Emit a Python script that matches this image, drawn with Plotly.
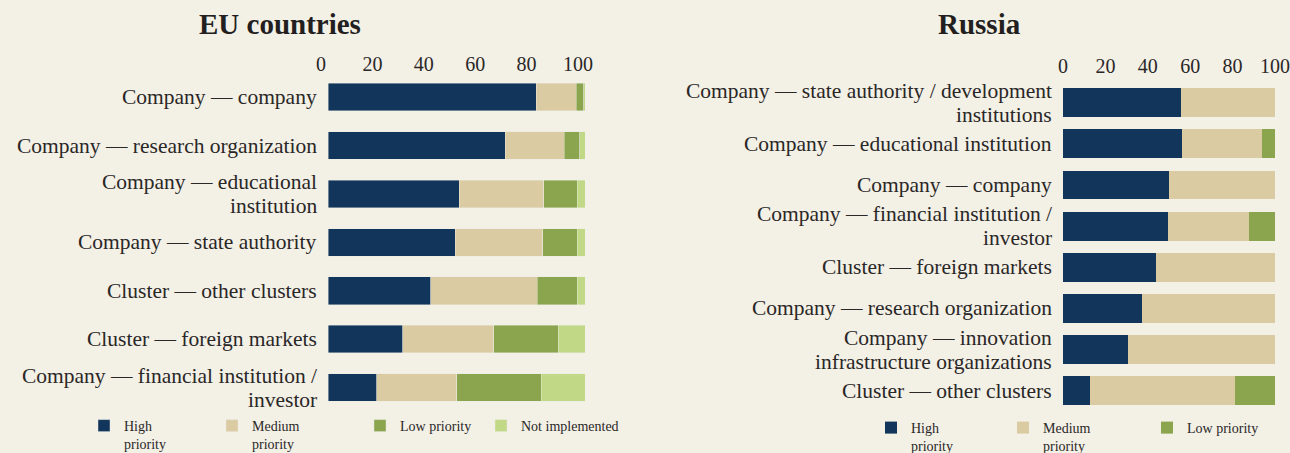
import plotly.graph_objects as go

# ---------------- data ----------------
eu_categories = [
    "Company — company",
    "Company — research organization",
    "Company — educational<br>institution",
    "Company — state authority",
    "Cluster — other clusters",
    "Cluster — foreign markets",
    "Company — financial institution /<br>investor",
]
eu_high = [81, 69, 51, 49.5, 40, 29, 19]
eu_medium = [15.5, 23, 33, 34, 41.5, 35.5, 31]
eu_low = [3, 6, 13, 13.5, 15.5, 25, 33]
eu_not = [0.5, 2, 3, 3, 3, 10.5, 17]

ru_categories = [
    "Company — state authority / development<br>institutions",
    "Company — educational institution",
    "Company — company",
    "Company — financial institution /<br>investor",
    "Cluster — foreign markets",
    "Company — research organization",
    "Company — innovation<br>infrastructure organizations",
    "Cluster — other clusters",
]
ru_high = [55.7, 56.1, 50, 49.5, 43.9, 37.3, 30.7, 12.7]
ru_medium = [44.3, 37.8, 50, 38.2, 56.1, 62.7, 69.3, 68.4]
ru_low = [0, 6.1, 0, 12.3, 0, 0, 0, 18.9]

tick_vals = [0, 20, 40, 60, 80, 100]
series_names = ["High<br>priority", "Medium<br>priority", "Low priority", "Not implemented"]

# ---------------- style ----------------
W, H = 1290, 453
BG = "#F3F0E6"
COLORS = ["#12355B", "#DBCBA3", "#8BA44E", "#C1D987"]
TXT = "#2a2727"
FONT = "Liberation Serif"
LABEL_SIZE = 21.5
LINE_STEP = 24

def px_x(p):
    return p / W

def px_y(p):
    return 1 - p / H

fig = go.Figure()
layout_legends = {}

# legend square left edges (px) and top (px) for each chart
eu_legend_x = [98, 226, 374, 495]
ru_legend_x = [885, 1017, 1161]

def legend_cfg(sq_left, top):
    return dict(orientation="h", x=px_x(sq_left - 14), y=px_y(top), xanchor="left",
                yanchor="top", valign="top", bgcolor="rgba(0,0,0,0)",
                font=dict(family=FONT, size=14, color=TXT),
                itemclick=False, itemdoubleclick=False)

eu_series = [eu_high, eu_medium, eu_low, eu_not]
for i, (name, vals, col) in enumerate(zip(series_names, eu_series, COLORS)):
    lg = "legend" if i == 0 else f"legend{i + 1}"
    fig.add_trace(go.Bar(
        y=eu_categories, x=vals, orientation="h", name=name,
        marker=dict(color=col, line=dict(width=0.8, color="rgba(235,235,225,0.55)")),
        width=0.57, xaxis="x", yaxis="y", legend=lg,
        hoverinfo="x+y",
    ))
    layout_legends[lg] = legend_cfg(eu_legend_x[i], 410)

ru_series = [ru_high, ru_medium, ru_low]
for i, (name, vals, col) in enumerate(zip(series_names[:3], ru_series, COLORS[:3])):
    lg = f"legend{i + 5}"
    fig.add_trace(go.Bar(
        y=ru_categories, x=vals, orientation="h", name=name,
        marker=dict(color=col, line=dict(width=0)),
        width=0.7, xaxis="x2", yaxis="y2", legend=lg,
        hoverinfo="x+y",
    ))
    layout_legends[lg] = legend_cfg(ru_legend_x[i], 412)

xcommon = dict(range=[0, 100], side="top", tickvals=tick_vals, showgrid=False,
               zeroline=False, showline=False, ticks="", fixedrange=True, automargin=False,
               tickfont=dict(family=FONT, size=20, color=TXT))
ycommon = dict(autorange="reversed", showgrid=False, zeroline=False, showline=False,
               ticks="", showticklabels=False, automargin=False, fixedrange=True)

# category labels as text placed at each category of the y axes
annotations = []
for cats, xr, yr in [(eu_categories, "x domain", "y"), (ru_categories, "x2 domain", "y2")]:
    for cat in cats:
        lines = cat.split("<br>")
        n = len(lines)
        for j, line in enumerate(lines):
            annotations.append(dict(
                text=line, x=0, y=cat, xref=xr, yref=yr, xanchor="right", yanchor="middle",
                xshift=-10, yshift=((n - 1) / 2 - j) * LINE_STEP, showarrow=False,
                borderpad=0, font=dict(family=FONT, size=LABEL_SIZE, color=TXT)))

annotations += [
    dict(text="<b>EU countries</b>", x=px_x(280), y=px_y(24), xref="paper", yref="paper",
         xanchor="center", yanchor="middle", showarrow=False,
         font=dict(family=FONT, size=29, color="#231f20")),
    dict(text="<b>Russia</b>", x=px_x(979), y=px_y(24), xref="paper", yref="paper",
         xanchor="center", yanchor="middle", showarrow=False,
         font=dict(family=FONT, size=29, color="#231f20")),
]

fig.update_layout(
    width=W, height=H,
    paper_bgcolor=BG, plot_bgcolor=BG,
    margin=dict(l=0, r=0, t=0, b=0, pad=0, autoexpand=False),
    barmode="stack",
    showlegend=True,
    xaxis=dict(domain=[px_x(328), px_x(585)], anchor="y", ticklabelshift=-7,
               ticklabelstandoff=-3, **xcommon),
    yaxis=dict(domain=[px_y(412.5), px_y(73)], anchor="x",
               categoryorder="array", categoryarray=eu_categories, **ycommon),
    xaxis2=dict(domain=[px_x(1063), px_x(1275)], anchor="y2", **xcommon),
    yaxis2=dict(domain=[px_y(411.3), px_y(77.7)], anchor="x2",
                categoryorder="array", categoryarray=ru_categories, **ycommon),
    annotations=annotations,
    **layout_legends,
)

fig.write_html("out.html", config={"displayModeBar": False},
               post_script="document.body.style.margin='0';")
